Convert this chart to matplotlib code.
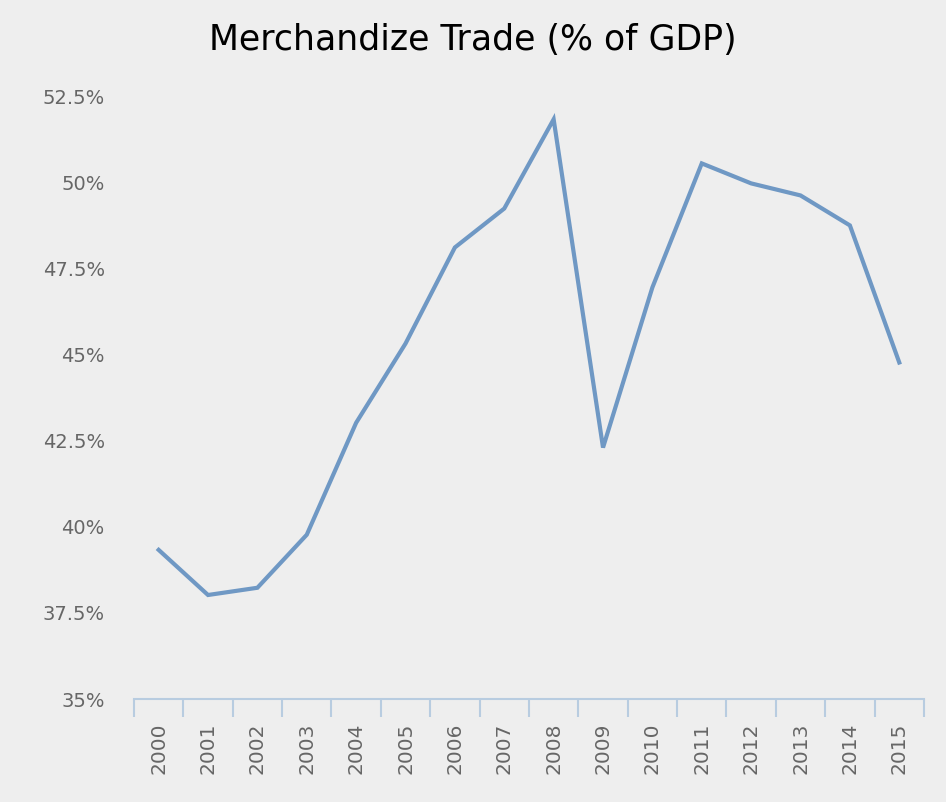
import matplotlib.pyplot as plt
import numpy as np
from matplotlib.ticker import FixedLocator, FuncFormatter

years = ['2000', '2001', '2002', '2003', '2004', '2005', '2006', '2007',
         '2008', '2009', '2010', '2011', '2012', '2013', '2014', '2015']
trade = [39.33, 38.02, 38.23, 39.77, 43.02, 45.32, 48.11, 49.24,
         51.83, 42.30, 46.95, 50.55, 49.97, 49.62, 48.75, 44.77]
yticks = [35, 37.5, 40, 42.5, 45, 47.5, 50, 52.5]

bg = '#eeeeee'
fig = plt.figure(figsize=(9.46, 8.02), dpi=100, facecolor=bg)
ax = fig.add_axes([0.1416, 0.1284, 0.8351, 0.7516], facecolor=bg)

x = np.arange(len(years)) + 0.5
ax.plot(x, trade, color='#6f98c4', linewidth=3, solid_joinstyle='miter')

ax.set_xlim(0, len(years))
ax.set_ylim(35, 52.5)

# y axis: labels only
ax.set_yticks(yticks)
ax.yaxis.set_major_formatter(FuncFormatter(lambda v, p: ('%g' % v) + '%'))
ax.tick_params(axis='y', length=0, pad=21, labelsize=14, labelcolor='#666666')

# x axis: boundary ticks, labels at centers
ax.xaxis.set_major_locator(FixedLocator(np.arange(len(years) + 1)))
ax.xaxis.set_major_formatter(FuncFormatter(lambda v, p: ''))
ax.xaxis.set_minor_locator(FixedLocator(x))
ax.set_xticklabels(years, minor=True, rotation=90)
ax.tick_params(axis='x', which='major', length=13, width=1.5, color='#b8cce0')
ax.tick_params(axis='x', which='minor', length=0, pad=17, labelsize=14.5,
               labelcolor='#666666')

for s in ['top', 'right', 'left']:
    ax.spines[s].set_visible(False)
ax.spines['bottom'].set_color('#b8cce0')
ax.spines['bottom'].set_linewidth(1.5)

fig.text(0.5, 0.95, 'Merchandize Trade (% of GDP)', ha='center', va='center',
         fontsize=25, color='black')

fig.savefig('out.png', dpi=100, facecolor=bg)
